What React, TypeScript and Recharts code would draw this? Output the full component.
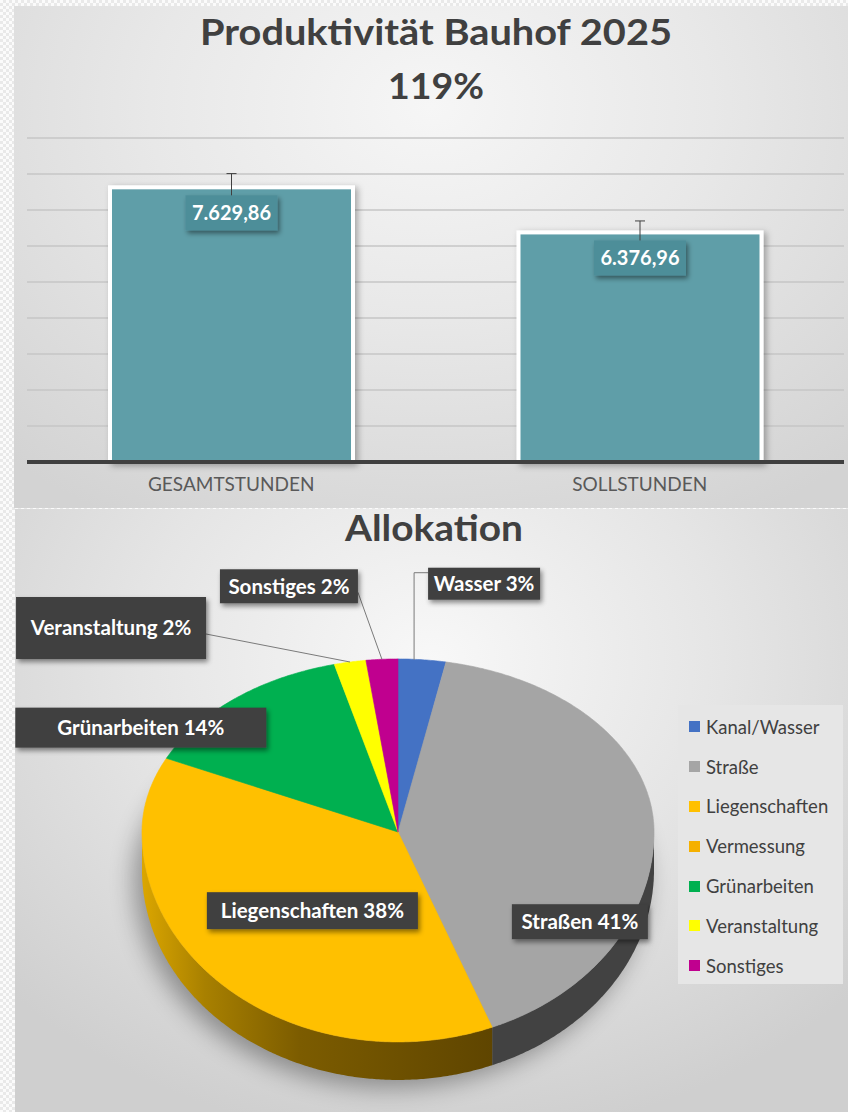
import {
  BarChart,
  Bar,
  XAxis,
  YAxis,
  CartesianGrid,
  ErrorBar,
  LabelList,
  PieChart,
  Pie,
  Legend,
} from 'recharts';

const FONT = 'Lato, "Open Sans", sans-serif';

// Produktivität
const barCategories = ['GESAMTSTUNDEN', 'SOLLSTUNDEN'];
const barHours = [7629.86, 6376.96];
const barErrors = [381.49, 318.85];
const hourTicks = [0, 1000, 2000, 3000, 4000, 5000, 6000, 7000, 8000, 9000];

// Allokation
const pieNames = ['Kanal/Wasser', 'Straße', 'Liegenschaften', 'Vermessung', 'Grünarbeiten', 'Veranstaltung', 'Sonstiges'];
const pieLabelNames = ['Wasser', 'Straßen', 'Liegenschaften', 'Vermessung', 'Grünarbeiten', 'Veranstaltung', 'Sonstiges'];
const pieShares = [3, 41, 38, 0, 14, 2, 2];

const pieColors = ['#4472c4', '#a5a5a5', '#ffc000', '#f5b000', '#00b050', '#ffff00', '#c0008f'];
const pieSideColors = ['#2f5597', '#424242', 'url(#sideGold)', 'url(#sideGold)', '#00803c', '#b3b300', '#86006b'];

// callout boxes, offset from the rim point at the slice's mid angle
const calloutLayout = [
  { dx: 62, dy: -76, w: 112, h: 32, leader: 'elbow' },
  { dx: -73, dy: 106, w: 136, h: 35, leader: 'none' },
  { dx: 101, dy: -65, w: 211, h: 37, leader: 'none' },
  null,
  { dx: -94, dy: 29, w: 251, h: 40, leader: 'none' },
  { dx: -239, dy: -34, w: 190, h: 62, leader: 'side' },
  { dx: -93, dy: -73, w: 138, h: 34, leader: 'side' },
];

const barData = barCategories.map((name, i) => ({ name, hours: barHours[i], err: barErrors[i] }));
const pieData = pieNames.map((name, i) => ({ name, share: pieShares[i] }));

const fmtDe = (v: number) => {
  const [int, dec] = v.toFixed(2).split('.');
  return int.replace(/\B(?=(\d{3})+(?!\d))/g, '.') + ',' + dec;
};

// fake 3D tilt of the pie
const TILT_UP = 0.676;
const TILT_DOWN = 0.82;
const DEPTH = 38;
const RAD = Math.PI / 180;

function rim(cx: number, cy: number, r: number, deg: number): [number, number] {
  const s = Math.sin(deg * RAD);
  return [cx + r * Math.cos(deg * RAD), cy - s * r * (s >= 0 ? TILT_UP : TILT_DOWN)];
}

function arcPoints(cx: number, cy: number, r: number, from: number, to: number) {
  const n = Math.max(2, Math.ceil(Math.abs(from - to) * 2));
  const pts: [number, number][] = [];
  for (let k = 0; k <= n; k++) pts.push(rim(cx, cy, r, from + ((to - from) * k) / n));
  return pts;
}

const toPath = (pts: [number, number][]) =>
  pts.map((p, i) => `${i ? 'L' : 'M'}${p[0].toFixed(1)},${p[1].toFixed(1)}`).join('') + 'Z';

function BarShape(p: any) {
  return (
    <rect
      x={p.x}
      y={p.y}
      width={p.width}
      height={p.height}
      fill={p.fill}
      stroke="#ffffff"
      strokeWidth={4}
      filter="url(#barShadow)"
    />
  );
}

function BarValueLabel(p: any) {
  const vb = p.viewBox || p;
  const x = vb.x ?? p.x;
  const y = vb.y ?? p.y;
  const width = vb.width ?? p.width;
  const mid = x + width / 2;
  return (
    <g>
      <rect x={mid - 46} y={y + 8} width={92} height={35} fill="#4e8e99" filter="url(#boxShadow)" />
      <text
        x={mid}
        y={y + 25.5}
        dy="0.36em"
        textAnchor="middle"
        fill="#ffffff"
        fontWeight={700}
        fontSize={20}
        fontFamily={FONT}
      >
        {fmtDe(Number(p.value))}
      </text>
    </g>
  );
}

function renderSlice(p: any) {
  const { cx, cy, outerRadius: r, startAngle, endAngle, midAngle, index, percent } = p;
  const parts: any[] = [];
  if (index === 0) {
    const ring = arcPoints(cx, cy, r, 0, 360).map(([x, y]) => [x - 8, y + DEPTH + 8] as [number, number]);
    parts.push(<path key="shadow" d={toPath(ring)} fill="#000" opacity={0.35} filter="url(#pieShadow)" />);
  }
  if (Math.abs(startAngle - endAngle) < 0.01) return <g>{parts}</g>;

  const hi = Math.min(startAngle, 0);
  const lo = Math.max(endAngle, -180);
  if (hi > lo) {
    const edge = arcPoints(cx, cy, r, hi, lo);
    const lower = edge.map(([x, y]) => [x, y + DEPTH] as [number, number]).reverse();
    parts.push(<path key="side" d={toPath([...edge, ...lower])} fill={pieSideColors[index]} />);
  }
  const face: [number, number][] = [[cx, cy], ...arcPoints(cx, cy, r, startAngle, endAngle)];
  parts.push(
    <path key="face" d={toPath(face)} fill={pieColors[index]} stroke={pieColors[index]} strokeWidth={0.6} />,
  );

  const c = calloutLayout[index];
  if (c) {
    const [ax, ay] = rim(cx, cy, r, midAngle);
    const bx = ax + c.dx;
    const by = ay + c.dy;
    const left = bx - c.w / 2;
    const top = by - c.h / 2;
    if (c.leader === 'elbow') {
      parts.push(
        <polyline
          key="lead"
          points={`${ax - 8},${ay} ${ax - 8},${top + 5} ${left},${top + 5}`}
          fill="none"
          stroke="#7a7a7a"
          strokeWidth={1}
        />,
      );
    } else if (c.leader === 'side') {
      parts.push(
        <line key="lead" x1={ax} y1={ay} x2={left + c.w} y2={by + 6} stroke="#7a7a7a" strokeWidth={1} />,
      );
    }
    parts.push(
      <g key="box">
        <rect x={left} y={top} width={c.w} height={c.h} fill="#404040" filter="url(#boxShadow)" />
        <text
          x={bx}
          y={by}
          dy="0.36em"
          textAnchor="middle"
          fill="#ffffff"
          fontWeight={700}
          fontSize={20.5}
          fontFamily={FONT}
        >
          {`${pieLabelNames[index]} ${Math.round(percent * 100)}%`}
        </text>
      </g>,
    );
  }
  return <g>{parts}</g>;
}

function PieLegend({ payload }: any) {
  const items = [...(payload || [])]
    .filter((e: any) => pieNames.includes(e.value))
    .slice(0, pieNames.length)
    .sort((a: any, b: any) => pieNames.indexOf(a.value) - pieNames.indexOf(b.value));
  return (
    <div
      style={{
        background: '#e6e6e6',
        width: 165,
        height: 279,
        padding: '2px 0 0 11px',
        boxSizing: 'border-box',
        fontFamily: FONT,
        fontSize: 18.5,
        color: '#404040',
      }}
    >
      {items.map((e: any) => (
        <div key={e.value} style={{ height: 39.8, display: 'flex', alignItems: 'center', whiteSpace: 'nowrap' }}>
          <span
            style={{
              width: 11,
              height: 11,
              background: pieColors[pieNames.indexOf(e.value)],
              marginRight: 6,
              flex: 'none',
            }}
          />
          {e.value}
        </div>
      ))}
    </div>
  );
}

export default function App() {
  return (
    <div
      style={{
        position: 'absolute',
        left: 0,
        top: 0,
        width: 848,
        height: 1112,
        overflow: 'hidden',
        background: 'repeating-conic-gradient(#e9e9e9 0% 25%, #fbfbfb 0% 50%) 0 0 / 6px 6px',
      }}
    >
      <svg width={0} height={0} style={{ position: 'absolute' }}>
        <defs>
          <filter id="barShadow" x="-10%" y="-10%" width="130%" height="130%">
            <feDropShadow dx="3" dy="2" stdDeviation="3" floodColor="#000" floodOpacity="0.3" />
          </filter>
          <filter id="boxShadow" x="-20%" y="-30%" width="150%" height="180%">
            <feDropShadow dx="2" dy="3" stdDeviation="2.5" floodColor="#000" floodOpacity="0.45" />
          </filter>
          <filter id="pieShadow" x="-20%" y="-20%" width="140%" height="140%">
            <feGaussianBlur stdDeviation="12" />
          </filter>
          <linearGradient id="sideGold" x1="0" y1="0" x2="1" y2="0">
            <stop offset="0" stopColor="#dba600" />
            <stop offset="0.18" stopColor="#a88000" />
            <stop offset="0.45" stopColor="#7c5c00" />
            <stop offset="1" stopColor="#5f4500" />
          </linearGradient>
        </defs>
      </svg>

      <div
        style={{
          position: 'absolute',
          left: 14,
          top: 6,
          width: 834,
          height: 502,
          background: 'radial-gradient(ellipse 75% 95% at 50% 20%, #f6f6f6 0%, #e8e8e8 45%, #d3d3d3 100%)',
        }}
      />
      <div
        style={{
          position: 'absolute',
          left: 15,
          top: 509,
          width: 833,
          height: 603,
          background: 'radial-gradient(ellipse 70% 80% at 50% 25%, #f8f8f8 0%, #e5e5e5 50%, #cfcfcf 100%)',
        }}
      />

      <div style={{ position: 'absolute', left: 15, top: 100 }}>
        <BarChart width={833} height={408} data={barData} margin={{ top: 38, right: 4, left: 12, bottom: 0 }}>
          <CartesianGrid vertical={false} stroke="#c6c6c6" strokeWidth={1.5} />
          <YAxis hide domain={[0, 9000]} ticks={hourTicks} />
          <XAxis
            dataKey="name"
            axisLine={{ stroke: '#404040', strokeWidth: 4 }}
            tickLine={false}
            tickMargin={10}
            height={46}
            interval={0}
            tick={{ fill: '#595959', fontSize: 19, fontFamily: FONT }}
          />
          <Bar dataKey="hours" fill="#5f9ea8" barSize={243} isAnimationActive={false} shape={BarShape}>
            <ErrorBar dataKey="err" width={5} stroke="#404040" strokeWidth={1} />
            <LabelList dataKey="hours" content={BarValueLabel} />
          </Bar>
        </BarChart>
      </div>

      <div style={{ position: 'absolute', left: 15, top: 509 }}>
        <PieChart width={833} height={603} margin={{ top: 0, right: 0, bottom: 0, left: 0 }}>
          <Pie
            data={pieData}
            dataKey="share"
            nameKey="name"
            cx={383}
            cy={323}
            outerRadius={256}
            startAngle={90}
            endAngle={-270}
            fill="none"
            stroke="none"
            label={renderSlice}
            labelLine={false}
            isAnimationActive={false}
          />
          <Legend
            layout="vertical"
            align="right"
            verticalAlign="top"
            itemSorter={null as any}
            content={PieLegend}
            wrapperStyle={{ left: 663, top: 196, width: 165, right: 'auto' }}
          />
        </PieChart>
      </div>

      <svg width={848} height={1112} style={{ position: 'absolute', left: 0, top: 0, pointerEvents: 'none' }}>
        <g fontFamily={FONT} fontWeight={700} fill="#404040" textAnchor="middle">
          <text x={436} y={45} fontSize={37} textLength={472} lengthAdjust="spacingAndGlyphs">
            Produktivität Bauhof 2025
          </text>
          <text x={436} y={99} fontSize={37} textLength={96} lengthAdjust="spacingAndGlyphs">
            119%
          </text>
          <text x={434} y={541} fontSize={37} textLength={178} lengthAdjust="spacingAndGlyphs">
            Allokation
          </text>
        </g>
      </svg>
    </div>
  );
}
